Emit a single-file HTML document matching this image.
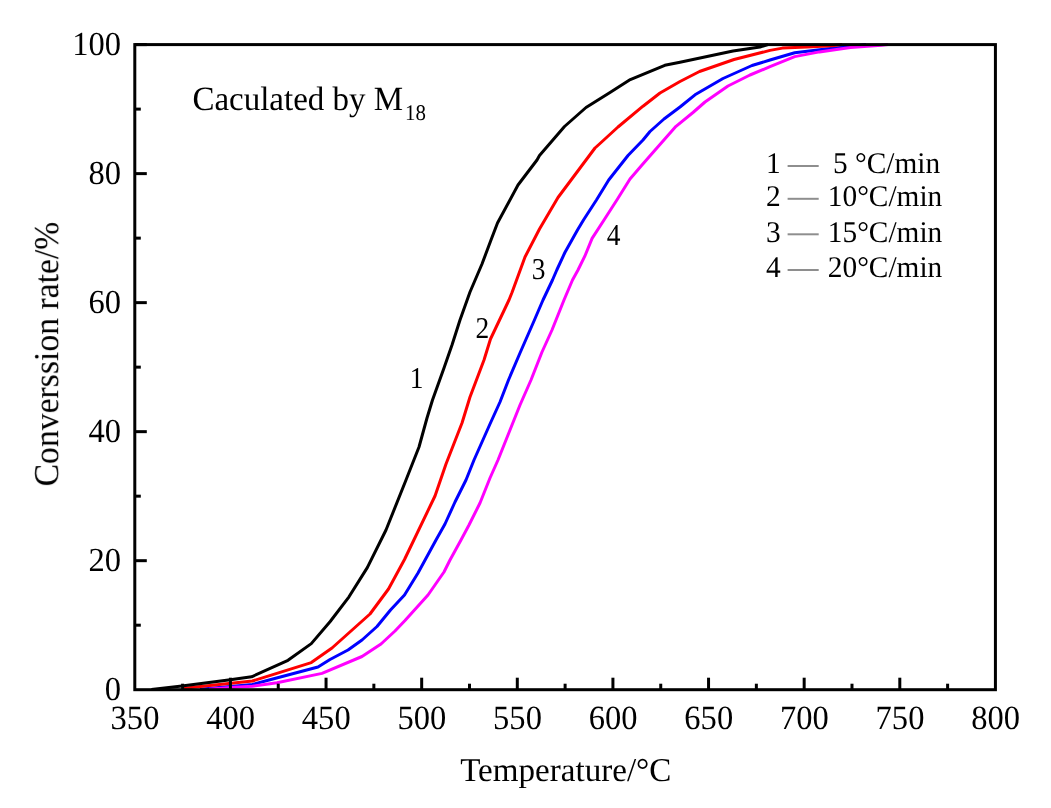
<!DOCTYPE html>
<html><head><meta charset="utf-8"><style>
html,body{margin:0;padding:0;background:#fff;overflow:hidden;}
svg{display:block;}
text{font-family:"Liberation Serif",serif;fill:#000;text-rendering:geometricPrecision;}
</style></head><body>
<svg width="1051" height="808" viewBox="0 0 1051 808">
<rect x="0" y="0" width="1051" height="808" fill="#fff"/>
<g fill="none" stroke-width="3" stroke-linejoin="round" stroke-linecap="butt">
<polyline points="200.0,689.2 230.3,686.6 252.4,684.4 270.0,679.8 318.0,667.0 330.0,659.5 348.0,650.0 362.0,640.0 377.0,626.5 390.5,610.0 404.5,595.0 418.0,573.0 436.0,540.0 445.0,524.0 455.0,502.0 466.0,480.0 474.0,460.0 490.0,424.0 500.0,402.0 508.5,380.0 520.0,353.0 534.0,321.0 543.0,300.0 552.5,280.0 556.8,270.0 564.9,252.5 577.5,230.0 583.5,220.0 596.6,199.8 608.7,180.0 628.0,155.5 643.0,140.0 650.0,131.5 664.0,119.0 680.0,107.0 695.0,94.8 723.0,78.5 752.0,65.5 770.0,60.0 794.7,52.8 825.7,48.9 856.6,45.7 866.0,44.5" stroke="#0000ff"/>
<polyline points="209.0,689.2 230.3,687.5 252.4,686.3 270.0,683.8 277.0,682.8 322.0,673.4 362.0,656.5 381.0,644.0 395.0,631.0 405.0,620.5 428.0,595.0 444.0,572.0 450.0,560.0 461.0,540.0 469.0,525.0 480.0,503.0 490.0,478.0 498.0,460.0 510.0,430.0 520.0,405.0 531.0,380.0 542.0,352.0 552.0,330.0 564.0,300.0 572.5,280.0 578.0,270.0 584.8,256.2 592.1,238.4 604.5,219.2 617.5,199.0 630.0,179.0 642.0,165.0 656.0,149.0 676.0,126.3 693.0,112.5 705.0,102.0 728.0,86.0 750.0,75.0 770.0,66.7 794.7,56.6 819.5,51.9 850.4,47.6 881.3,45.2 888.0,44.5" stroke="#ff00ff"/>
<polyline points="184.1,688.3 252.4,681.0 311.3,662.6 332.0,648.0 370.0,614.0 380.0,600.5 388.5,589.0 404.5,559.5 435.0,496.0 440.5,480.0 446.0,464.0 462.0,423.0 470.0,397.0 484.0,360.0 490.5,339.0 509.0,300.0 512.0,292.5 525.0,257.0 539.5,229.0 558.0,197.5 595.0,148.0 600.0,143.5 618.0,127.0 643.0,106.2 660.0,93.0 680.0,81.5 699.5,71.5 734.0,59.5 770.0,50.4 782.4,48.1 807.0,46.9 832.0,45.7 842.0,44.5" stroke="#ff0000"/>
<polyline points="151.4,689.5 181.9,686.0 230.3,679.8 251.6,676.8 288.0,660.3 311.3,643.6 330.2,621.5 349.0,596.8 367.3,567.6 386.0,530.0 406.0,480.0 419.0,447.0 427.0,418.0 432.5,400.0 444.0,368.0 452.0,345.0 460.0,320.0 470.0,292.0 482.0,264.0 491.0,240.0 497.5,223.0 518.0,185.0 537.0,160.0 539.5,155.5 564.5,126.5 586.0,107.5 610.0,92.5 630.3,79.6 664.8,65.3 680.0,62.3 733.0,51.0 760.0,47.0 768.0,44.5" stroke="#000"/>
</g>
<g stroke="#000" stroke-width="3" fill="none">
<rect x="134.80" y="44.60" width="860.62" height="645.10"/>
<line x1="182.61" y1="689.70" x2="182.61" y2="683.70"/><line x1="230.43" y1="689.70" x2="230.43" y2="677.70"/><line x1="278.24" y1="689.70" x2="278.24" y2="683.70"/><line x1="326.05" y1="689.70" x2="326.05" y2="677.70"/><line x1="373.86" y1="689.70" x2="373.86" y2="683.70"/><line x1="421.68" y1="689.70" x2="421.68" y2="677.70"/><line x1="469.49" y1="689.70" x2="469.49" y2="683.70"/><line x1="517.30" y1="689.70" x2="517.30" y2="677.70"/><line x1="565.11" y1="689.70" x2="565.11" y2="683.70"/><line x1="612.92" y1="689.70" x2="612.92" y2="677.70"/><line x1="660.74" y1="689.70" x2="660.74" y2="683.70"/><line x1="708.55" y1="689.70" x2="708.55" y2="677.70"/><line x1="756.36" y1="689.70" x2="756.36" y2="683.70"/><line x1="804.17" y1="689.70" x2="804.17" y2="677.70"/><line x1="851.99" y1="689.70" x2="851.99" y2="683.70"/><line x1="899.80" y1="689.70" x2="899.80" y2="677.70"/><line x1="947.61" y1="689.70" x2="947.61" y2="683.70"/><line x1="134.80" y1="625.19" x2="140.80" y2="625.19"/><line x1="134.80" y1="560.68" x2="146.80" y2="560.68"/><line x1="134.80" y1="496.17" x2="140.80" y2="496.17"/><line x1="134.80" y1="431.66" x2="146.80" y2="431.66"/><line x1="134.80" y1="367.15" x2="140.80" y2="367.15"/><line x1="134.80" y1="302.64" x2="146.80" y2="302.64"/><line x1="134.80" y1="238.13" x2="140.80" y2="238.13"/><line x1="134.80" y1="173.62" x2="146.80" y2="173.62"/><line x1="134.80" y1="109.11" x2="140.80" y2="109.11"/><line x1="134.80" y1="44.60" x2="146.80" y2="44.60"/>
</g>
<g style="filter:grayscale(1)">
<text transform="translate(135.00,729.40) scale(0.985,1.03)" font-size="33" text-anchor="middle">350</text>
<text transform="translate(230.62,729.40) scale(0.985,1.03)" font-size="33" text-anchor="middle">400</text>
<text transform="translate(326.25,729.40) scale(0.985,1.03)" font-size="33" text-anchor="middle">450</text>
<text transform="translate(421.88,729.40) scale(0.985,1.03)" font-size="33" text-anchor="middle">500</text>
<text transform="translate(517.50,729.40) scale(0.985,1.03)" font-size="33" text-anchor="middle">550</text>
<text transform="translate(613.12,729.40) scale(0.985,1.03)" font-size="33" text-anchor="middle">600</text>
<text transform="translate(708.75,729.40) scale(0.985,1.03)" font-size="33" text-anchor="middle">650</text>
<text transform="translate(804.38,729.40) scale(0.985,1.03)" font-size="33" text-anchor="middle">700</text>
<text transform="translate(900.00,729.40) scale(0.985,1.03)" font-size="33" text-anchor="middle">750</text>
<text transform="translate(995.62,729.40) scale(0.985,1.03)" font-size="33" text-anchor="middle">800</text>
<text transform="translate(121.10,700.30) scale(0.985,1.02)" font-size="33" text-anchor="end">0</text>
<text transform="translate(121.10,571.28) scale(0.985,1.02)" font-size="33" text-anchor="end">20</text>
<text transform="translate(121.10,442.26) scale(0.985,1.02)" font-size="33" text-anchor="end">40</text>
<text transform="translate(121.10,313.24) scale(0.985,1.02)" font-size="33" text-anchor="end">60</text>
<text transform="translate(121.10,184.22) scale(0.985,1.02)" font-size="33" text-anchor="end">80</text>
<text transform="translate(121.10,55.20) scale(0.985,1.02)" font-size="33" text-anchor="end">100</text>
<text transform="translate(565.80,781.40) scale(1.003,1.01)" font-size="33" text-anchor="middle">Temperature/°C</text>
<text transform="translate(58.30,354.10) rotate(-90) scale(1.0,1.04)" font-size="33.7" text-anchor="middle">Converssion rate/%</text>
<text transform="translate(192.40,110.20) scale(1.0,1.03)" font-size="33">Caculated by M</text>
<text transform="translate(405.00,120.30) scale(0.95,1.02)" font-size="22">18</text>
<text transform="translate(766.00,173.40) scale(0.98,1.0)" font-size="30">1</text>
<line x1="787.6" y1="166.0" x2="818.7" y2="166.0" stroke="#8e8e8e" stroke-width="2.0"/>
<text transform="translate(833.00,173.40) scale(0.978,1.0)" font-size="30">5 °C/min</text>
<text transform="translate(766.00,206.30) scale(0.98,1.0)" font-size="30">2</text>
<line x1="787.6" y1="198.8" x2="818.7" y2="198.8" stroke="#8e8e8e" stroke-width="2.0"/>
<text transform="translate(827.80,206.30) scale(0.978,1.0)" font-size="30">10°C/min</text>
<text transform="translate(766.00,242.20) scale(0.98,1.0)" font-size="30">3</text>
<line x1="787.6" y1="234.3" x2="818.7" y2="234.3" stroke="#8e8e8e" stroke-width="2.0"/>
<text transform="translate(827.80,242.20) scale(0.978,1.0)" font-size="30">15°C/min</text>
<text transform="translate(766.00,277.00) scale(0.98,1.0)" font-size="30">4</text>
<line x1="787.6" y1="270.0" x2="818.7" y2="270.0" stroke="#8e8e8e" stroke-width="2.0"/>
<text transform="translate(827.80,277.00) scale(0.978,1.0)" font-size="30">20°C/min</text>
<text transform="translate(409.80,388.00) scale(0.98,1.08)" font-size="28">1</text>
<text transform="translate(475.50,338.00) scale(0.98,1.08)" font-size="28">2</text>
<text transform="translate(531.80,279.30) scale(0.98,1.08)" font-size="28">3</text>
<text transform="translate(606.70,244.50) scale(0.98,1.08)" font-size="28">4</text>
</g>
</svg>
</body></html>
